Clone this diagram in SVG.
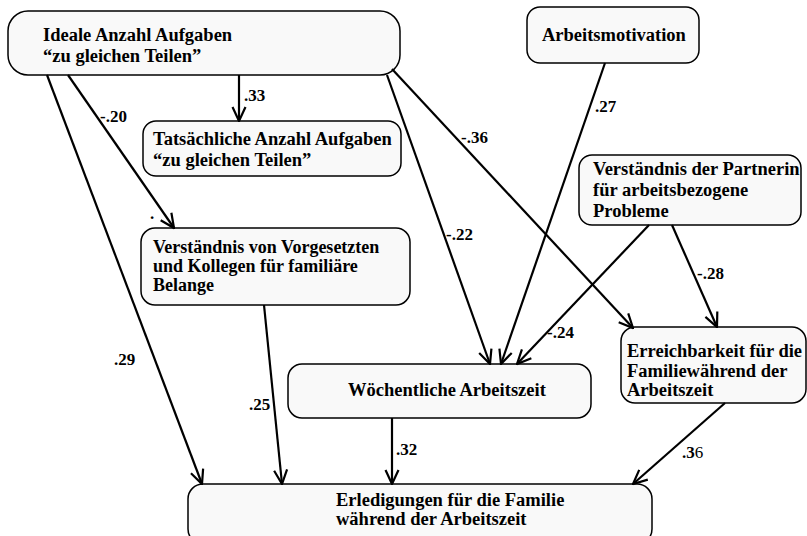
<svg xmlns="http://www.w3.org/2000/svg" width="807" height="536" viewBox="0 0 807 536">
<style>
.node rect{fill:#f9f9f9;stroke:#000;stroke-width:1.5}
text{font-family:"Liberation Serif","Times New Roman",serif;font-weight:bold;font-size:18.5px;fill:#000}
#n5 text{font-size:18px}
.lbl{font-size:17px}
.edges line{stroke:#000;stroke-width:2.2;marker-end:url(#arr)}
</style>
<defs>
<marker id="arr" markerUnits="userSpaceOnUse" viewBox="0 0 16 16" refX="15" refY="8" markerWidth="16" markerHeight="16" orient="auto">
<path d="M1,1.5 L15,8 L1,14.5" fill="none" stroke="#000" stroke-width="2.2"/>
</marker>
</defs>
<rect width="807" height="536" fill="#fff"/>
<g id="n1" class="node"><rect x="8" y="11" width="392" height="64" rx="20"/><text x="43" y="41">Ideale Anzahl Aufgaben</text><text x="43" y="62">“zu gleichen Teilen”</text></g>
<g id="n2" class="node"><rect x="143" y="121" width="258" height="55" rx="13"/><text x="153" y="145">Tatsächliche Anzahl Aufgaben</text><text x="153" y="166">“zu gleichen Teilen”</text></g>
<g id="n3" class="node"><rect x="527" y="7" width="172" height="56" rx="13"/><text x="542" y="41">Arbeitsmotivation</text></g>
<g id="n4" class="node"><rect x="579" y="155" width="222" height="70" rx="13"/><text x="593" y="175">Verständnis der Partnerin</text><text x="593" y="196">für arbeitsbezogene</text><text x="593" y="217">Probleme</text></g>
<g id="n5" class="node"><rect x="141" y="228" width="269" height="77" rx="14"/><text x="153" y="253">Verständnis von Vorgesetzten</text><text x="153" y="272">und Kollegen für familiäre</text><text x="153" y="291">Belange</text></g>
<g id="n6" class="node"><rect x="288" y="364" width="303" height="54" rx="14"/><text x="348" y="396">Wöchentliche Arbeitszeit</text></g>
<g id="n7" class="node"><rect x="621" y="327" width="185" height="76" rx="14"/><text x="627" y="357">Erreichbarkeit für die</text><text x="627" y="377">Familiewährend der</text><text x="627" y="396">Arbeitszeit</text></g>
<g id="n8" class="node"><rect x="188" y="484" width="464" height="60" rx="15"/><text x="336" y="506">Erledigungen für die Familie</text><text x="336" y="525">während der Arbeitszeit</text></g>
<g id="edges" class="edges">
<line x1="239" y1="75" x2="239" y2="121"/>
<line x1="68" y1="75" x2="174" y2="228"/>
<line x1="47" y1="75" x2="202" y2="484"/>
<line x1="387" y1="75" x2="490" y2="364"/>
<line x1="392" y1="69" x2="633" y2="328"/>
<line x1="605" y1="63" x2="501" y2="364"/>
<line x1="649" y1="225" x2="517" y2="364"/>
<line x1="672" y1="225" x2="717" y2="327"/>
<line x1="264" y1="305" x2="282" y2="484"/>
<line x1="392" y1="418" x2="392" y2="484"/>
<line x1="725" y1="403" x2="633" y2="484"/>
</g>
<g id="labels">
<text class="lbl" x="244" y="101">.33</text>
<text class="lbl" x="100" y="122">-.20</text>
<text class="lbl" x="595" y="112">.27</text>
<text class="lbl" x="461" y="143">-.36</text>
<text class="lbl" x="446" y="240">-.22</text>
<text class="lbl" x="697" y="279">-.28</text>
<text class="lbl" x="547" y="338">-.24</text>
<text class="lbl" x="114" y="365">.29</text>
<text class="lbl" x="249" y="410">.25</text>
<text class="lbl" x="396" y="455">.32</text>
<text class="lbl" x="682" y="458">.3<tspan font-weight="normal">6</tspan></text>
<text class="lbl" x="150" y="219">.</text>
</g>
</svg>
